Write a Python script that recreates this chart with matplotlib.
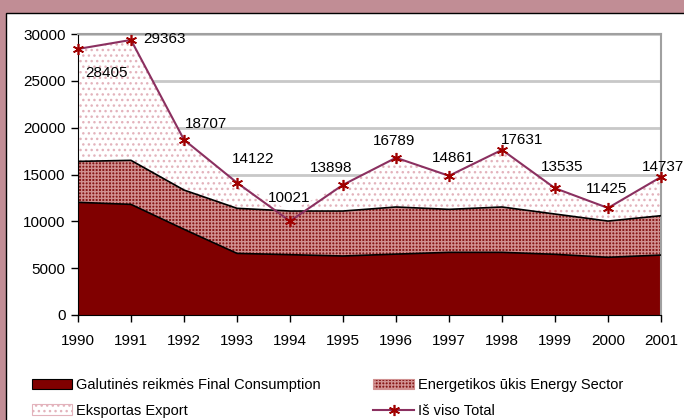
import numpy as np
import matplotlib
matplotlib.use("Agg")
import matplotlib.pyplot as plt
from matplotlib.patches import Rectangle, Patch
from matplotlib.lines import Line2D

plt.rcParams['font.family'] = ['Liberation Sans', 'DejaVu Sans']
plt.rcParams['hatch.linewidth'] = 1.0

# Duomenys
years = [1990, 1991, 1992, 1993, 1994, 1995, 1996, 1997, 1998, 1999, 2000, 2001]
final_consumption = [12030, 11810, 9150, 6580, 6440, 6300, 6500, 6690, 6690, 6480, 6160, 6400]
energy_sector = [4370, 4700, 4190, 4810, 4660, 4800, 5030, 4590, 4840, 4300, 3870, 4200]
export = [12005, 12853, 5367, 2732, 0, 2798, 5259, 3581, 6101, 2755, 1395, 4137]
total = [28405, 29363, 18707, 14122, 10021, 13898, 16789, 14861, 17631, 13535, 11425, 14737]

label_names = ['Galutinės reikmės Final Consumption', 'Energetikos ūkis Energy Sector',
               'Eksportas Export', 'Iš viso Total']

# poslinkiai uzrasams (pikseliais)
label_offsets = [(28, -24), (33, 1), (22, 16), (16, 24), (-1, 23), (-12, 17),
                 (-2, 17), (4, 18), (20, 10), (7, 21), (-1, 19), (2, 10)]

FS = 11
LEG_FS = 10.5
ES_FACE = '#861616'
ES_HATCH = '#D09090'
EX_HATCH = '#E3B3BC'

x = np.array(years)
fc = np.array(final_consumption)
es_top = fc + np.array(energy_sector)
ex_top = es_top + np.array(export)

fig = plt.figure(figsize=(6.84, 4.2), dpi=100)
fig.patch.set_facecolor('#C18D95')
fig.patches.append(Rectangle((6 / 684, -0.01), 1.0, (420 - 13) / 420 + 0.01,
                             transform=fig.transFigure, facecolor='white',
                             edgecolor='black', linewidth=1, zorder=-5))

ax = fig.add_axes([78 / 684, 1 - 315 / 420, (661 - 78) / 684, (315 - 34) / 420])
ax.set_facecolor('none')

ax.fill_between(x, 0, fc, facecolor='#800000', linewidth=0, zorder=2)
ax.fill_between(x, fc, es_top, facecolor=ES_FACE, edgecolor=ES_HATCH,
                hatch='+++++', linewidth=0, zorder=2)
ax.fill_between(x, es_top, ex_top, facecolor='white', edgecolor=EX_HATCH,
                hatch='...', linewidth=0, zorder=2)
ax.plot(x, fc, color='black', linewidth=1.2, zorder=3)
ax.plot(x, es_top, color='black', linewidth=1.2, zorder=3)

ax.plot(x, total, color='#8B3060', linewidth=1.5, zorder=4, clip_on=False,
        marker=(6, 2, 0), markersize=8, markeredgecolor='#A00000',
        markeredgewidth=1.2)

for xi, yi, (dx, dy) in zip(years, total, label_offsets):
    ax.annotate(str(yi), (xi, yi), xytext=(dx, dy), textcoords='offset pixels',
                ha='center', va='center', fontsize=FS, zorder=5)

ax.set_xlim(1990, 2001)
ax.set_ylim(0, 30000)
ax.set_xticks(years)
ax.set_yticks(np.arange(0, 30001, 5000))
ax.tick_params(axis='both', direction='out', length=5, width=1, labelsize=FS, color='black')
ax.tick_params(axis='x', pad=9)
ax.tick_params(axis='y', pad=4)
ax.grid(axis='y', color='#C8C8C8', linewidth=2, zorder=1)
ax.set_axisbelow(True)
for side in ['top', 'right']:
    ax.spines[side].set_color('#A0A0A0')
    ax.spines[side].set_linewidth(1.5)
ax.spines['left'].set_color('black')
ax.spines['bottom'].set_color('black')

handles = [
    Patch(facecolor='#800000', edgecolor='black', linewidth=0.8),
    Patch(facecolor='white', edgecolor=EX_HATCH, hatch='...', linewidth=0.8),
    Patch(facecolor=ES_FACE, edgecolor=ES_HATCH, hatch='+++++', linewidth=0.8),
    Line2D([], [], color='#8B3060', linewidth=1.5, marker=(6, 2, 0), markersize=8,
           markeredgecolor='#A00000', markeredgewidth=1.2),
]
labels = [label_names[0], label_names[2], label_names[1], label_names[3]]
fig.legend(handles, labels, ncol=2, loc='upper left',
           bbox_to_anchor=(25 / 684, 1 - 371 / 420), frameon=False, fontsize=LEG_FS,
           handlelength=2.75, handleheight=0.7, handletextpad=0.27,
           columnspacing=3.6, labelspacing=0.78, borderpad=0)

fig.savefig('out.png', dpi=100, facecolor=fig.get_facecolor())
